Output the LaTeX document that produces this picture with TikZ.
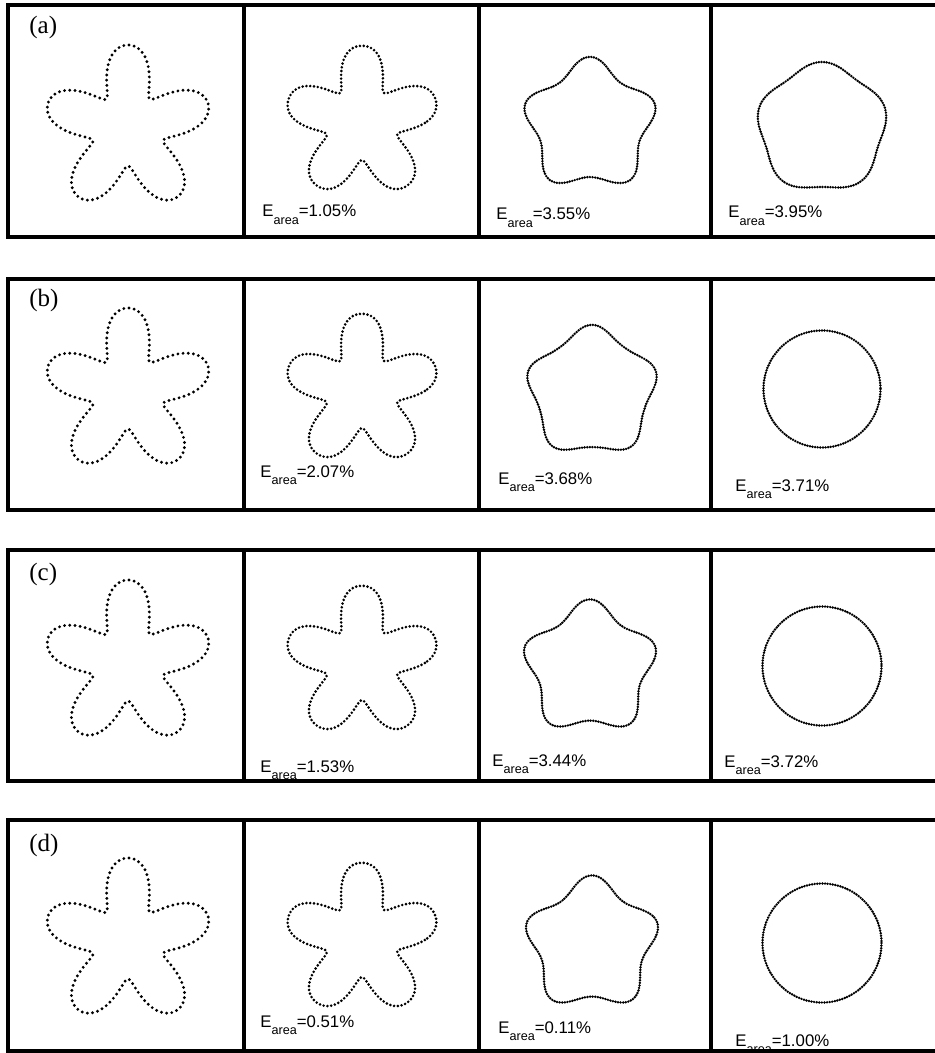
\documentclass[tikz,border=0pt]{standalone}
\usepackage{fontspec}
\setmainfont{Liberation Serif}
\newfontfamily\arialfont{Liberation Sans}
\newcommand\fshape[6]{%
  \draw[#6] plot[domain=0:360,samples=361] ({#1+(#3+#4*cos(5*(\x+90))+#5*cos(10*(\x+90)))*cos(\x)}, {#2+(#3+#4*cos(5*(\x+90))+#5*cos(10*(\x+90)))*sin(\x)}) -- cycle;}
\newcommand\elabel[1]{E\raisebox{-0.42em}{\fontsize{6.3pt}{7pt}\selectfont area}=#1}
\tikzset{
  frame/.style={line width=2.3pt, draw=black},
  dotsA/.style={line width=1.6pt, line cap=round, dash pattern=on 0pt off 2.6pt},
  dotsB/.style={line width=1.45pt, line cap=round, dash pattern=on 0pt off 1.9pt},
  dotsC/.style={line width=1.35pt, line cap=round, dash pattern=on 0pt off 1.3pt},
  plabel/.style={font=\fontsize{12.5pt}{14pt}\selectfont, anchor=west, inner sep=0pt},
  elab/.style={font=\arialfont\fontsize{8.4pt}{9pt}\selectfont, anchor=base west, inner sep=0pt},
}
\begin{document}
\begin{tikzpicture}[x=0.5pt,y=-0.5pt]
\useasboundingbox (0,0) rectangle (935,1053);
\fill[white] (0,0) rectangle (935,1053);
% ---------- row (a)
\fshape{128}{129}{63}{23.5}{-2.5}{dotsA}
\fshape{362}{123}{60}{20}{-2.8}{dotsB}
\fshape{590}{125}{59.5}{8}{0.6}{dotsC}
\fshape{822}{128}{62.5}{3.5}{0}{dotsC}
\node[plabel] (la) at (29,27) {(a)};
\node[elab] (ea2) at (262,217) {\elabel{1.05\%}};
\node[elab] (ea3) at (496,220) {\elabel{3.55\%}};
\node[elab] (ea4) at (728,218) {\elabel{3.95\%}};
% ---------- row (b)
\fshape{128}{392}{63}{23.5}{-2.5}{dotsA}
\fshape{362}{391}{60}{20}{-2.8}{dotsB}
\fshape{592}{392}{60.5}{6}{0.6}{dotsC}
\fshape{822}{389}{58.5}{0}{0}{dotsC}
\node[plabel] (lb) at (29,300) {(b)};
\node[elab] (eb2) at (260,477) {\elabel{2.07\%}};
\node[elab] (eb3) at (498,484) {\elabel{3.68\%}};
\node[elab] (eb4) at (735,491) {\elabel{3.71\%}};
% ---------- row (c)
\fshape{128}{664}{63}{23.5}{-2.5}{dotsA}
\fshape{362}{663}{60}{20}{-2.8}{dotsB}
\fshape{590}{668}{60}{8}{0.6}{dotsC}
\fshape{822}{666}{59.5}{0}{0}{dotsC}
\node[plabel] (lc) at (29,574) {(c)};
\node[elab] (ec2) at (260,772) {\elabel{1.53\%}};
\node[elab] (ec3) at (492,766) {\elabel{3.44\%}};
\node[elab] (ec4) at (724,767) {\elabel{3.72\%}};
% ---------- row (d)
\fshape{128}{942}{63}{23.5}{-2.5}{dotsA}
\fshape{362}{940}{60}{20}{-2.8}{dotsB}
\fshape{592}{944}{60}{8}{0.6}{dotsC}
\fshape{822}{943}{59.5}{0}{0}{dotsC}
\node[plabel] (ld) at (29,845) {(d)};
\node[elab] (ed2) at (260,1027) {\elabel{0.51\%}};
\node[elab] (ed3) at (498,1033) {\elabel{0.11\%}};
\node[elab] (ed4) at (735,1046) {\elabel{1.00\%}};
% ---------- frames
\foreach \t/\b in {5/237, 279/510, 550/781, 820/1051}{
  \draw[frame] (8,\t) rectangle (946,\b);
  \foreach \c in {244,479,711}{\draw[frame] (\c,\t) -- (\c,\b);}
}
\end{tikzpicture}
\end{document}
